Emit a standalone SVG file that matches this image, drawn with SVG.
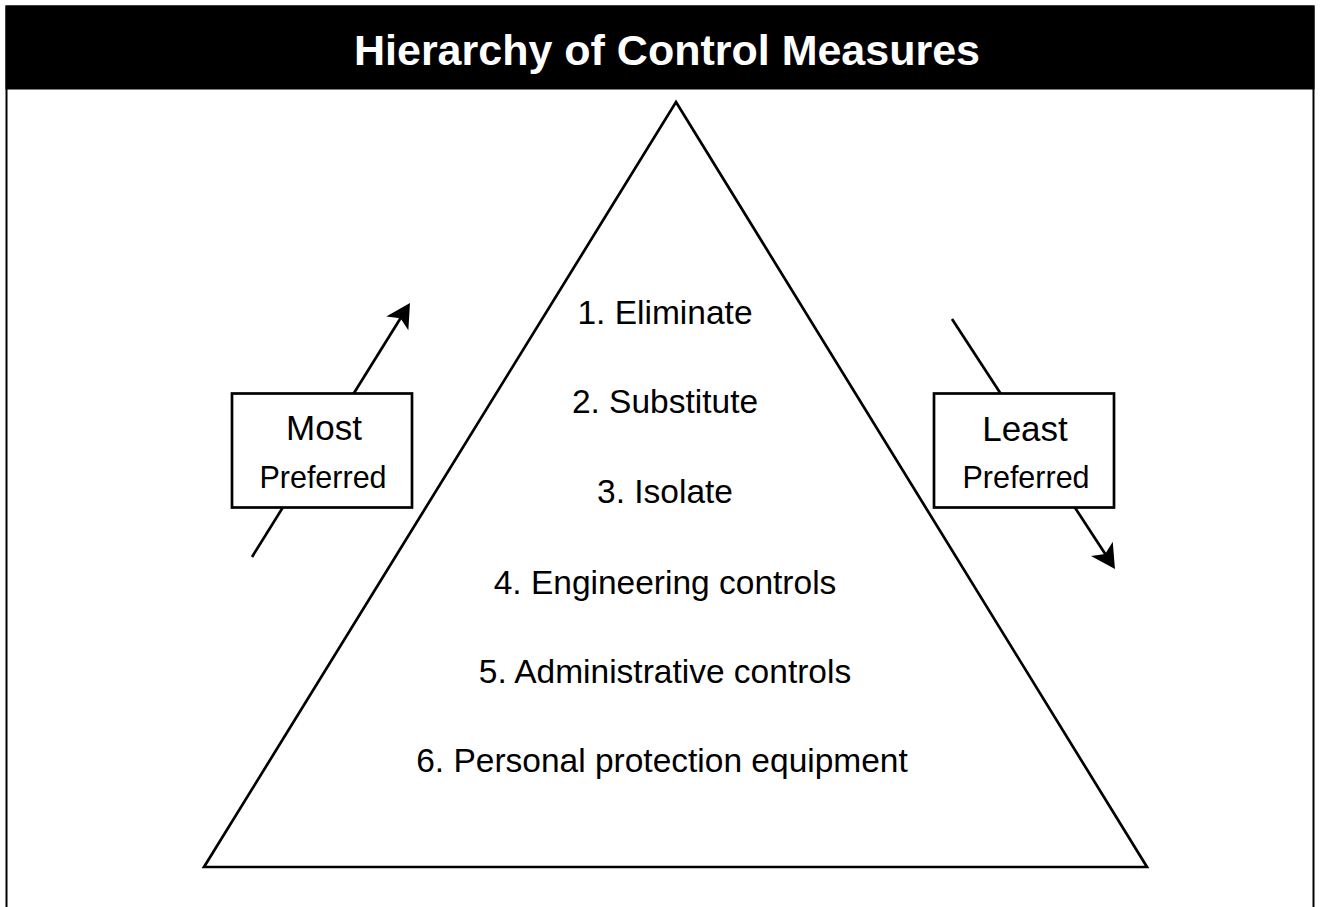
<svg xmlns="http://www.w3.org/2000/svg" width="1320" height="907" viewBox="0 0 1320 907">
  <style>
    .frame { fill: none; stroke: #000; stroke-width: 2; }
    .tri { fill: #fff; stroke: #000; stroke-width: 2.7; stroke-linejoin: miter; }
    .box { fill: #fff; stroke: #000; stroke-width: 2.7; }
    .conn { stroke: #000; stroke-width: 2.7; fill: none; }
    .title { font-family: "Liberation Sans", Arial, sans-serif; font-weight: bold; font-size: 43px; fill: #fff; text-anchor: middle; }
    .lvl { font-family: "Liberation Sans", Arial, sans-serif; font-size: 33.5px; fill: #000; text-anchor: middle; }
    .big { font-family: "Liberation Sans", Arial, sans-serif; font-size: 35px; fill: #000; text-anchor: middle; }
    .small { font-family: "Liberation Sans", Arial, sans-serif; font-size: 30.5px; fill: #000; text-anchor: middle; }
  </style>
  <defs>
    <marker id="arrow" markerUnits="userSpaceOnUse" markerWidth="40" markerHeight="40" refX="0" refY="0" orient="auto" overflow="visible" viewBox="-20 -20 40 40">
      <path d="M 10 0 L -14 -13 L -8 0 L -14 13 Z" fill="#000"/>
    </marker>
  </defs>

  <rect x="0" y="0" width="1320" height="907" fill="#fff"/>

  <g id="frame">
    <rect class="frame" x="6.5" y="6.5" width="1307" height="930"/>
    <rect x="5.5" y="5.5" width="1309" height="84" fill="#000"/>
    <text class="title" x="667" y="65">Hierarchy of Control Measures</text>
  </g>

  <g id="pyramid">
    <polygon class="tri" points="676,102 1147,867 204,867"/>
    <g id="level1"><text class="lvl" x="665" y="324">1. Eliminate</text></g>
    <g id="level2"><text class="lvl" x="665" y="413">2. Substitute</text></g>
    <g id="level3"><text class="lvl" x="665" y="503">3. Isolate</text></g>
    <g id="level4"><text class="lvl" x="665" y="594">4. Engineering controls</text></g>
    <g id="level5"><text class="lvl" x="665" y="683">5. Administrative controls</text></g>
    <g id="level6"><text class="lvl" x="662" y="772">6. Personal protection equipment</text></g>
  </g>

  <g id="connectors">
    <line class="conn" x1="252" y1="557" x2="404.7" y2="311.5" marker-end="url(#arrow)"/>
    <line class="conn" x1="952" y1="319" x2="1109.5" y2="560.6" marker-end="url(#arrow)"/>
  </g>

  <g id="most-preferred">
    <rect class="box" x="232" y="393.5" width="180" height="114"/>
    <text class="big" x="324" y="440">Most</text>
    <text class="small" x="323" y="488">Preferred</text>
  </g>

  <g id="least-preferred">
    <rect class="box" x="934" y="393.5" width="180" height="114"/>
    <text class="big" x="1025" y="441">Least</text>
    <text class="small" x="1026" y="488">Preferred</text>
  </g>
</svg>
